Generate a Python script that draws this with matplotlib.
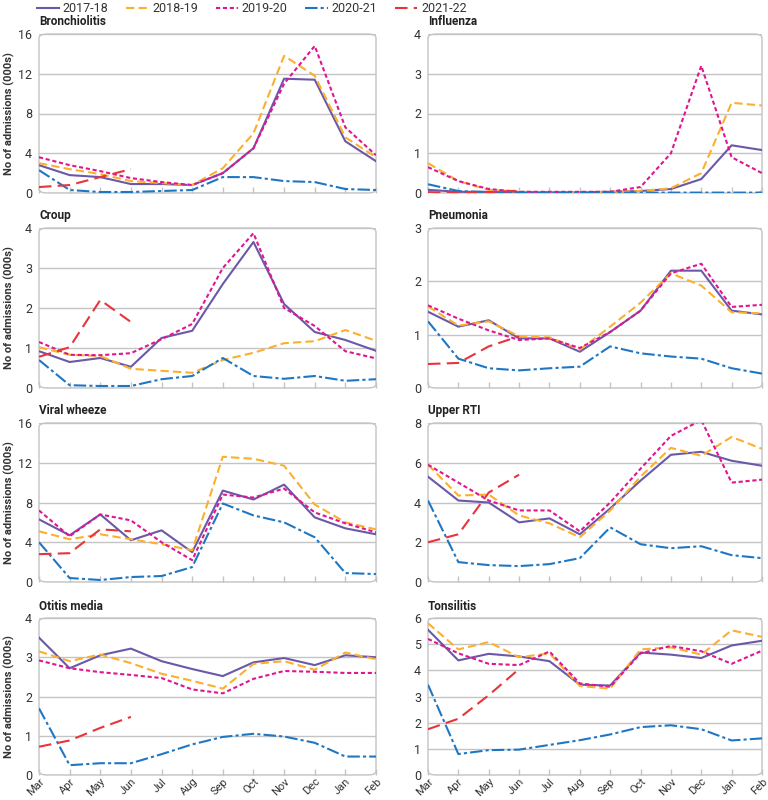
import matplotlib
matplotlib.use("Agg")
import matplotlib.pyplot as plt
from matplotlib.patches import FancyBboxPatch
from matplotlib.lines import Line2D

plt.rcParams["font.family"] = ["Roboto", "DejaVu Sans"]

months = ["Mar", "Apr", "May", "Jun", "Jul", "Aug", "Sep", "Oct", "Nov", "Dec", "Jan", "Feb"]
seasons = ["2017-18", "2018-19", "2019-20", "2020-21", "2021-22"]

# values in thousands, one list per season (2021-22 only to Jun)
bronchiolitis = [
    [2.8, 1.8, 1.6, 0.9, 0.9, 0.8, 2.0, 4.5, 11.5, 11.4, 5.2, 3.2],
    [3.0, 2.4, 1.9, 1.2, 1.0, 0.8, 2.5, 6.0, 13.8, 11.8, 5.6, 3.6],
    [3.6, 2.8, 2.2, 1.5, 1.1, 0.8, 2.0, 4.5, 11.0, 14.8, 6.6, 3.8],
    [2.3, 0.3, 0.1, 0.1, 0.2, 0.3, 1.6, 1.6, 1.2, 1.1, 0.4, 0.3],
    [0.6, 0.8, 1.6, 2.4],
]
influenza = [
    [0.08, 0.03, 0.03, 0.02, 0.02, 0.02, 0.03, 0.05, 0.1, 0.35, 1.2, 1.08],
    [0.75, 0.3, 0.08, 0.03, 0.02, 0.02, 0.03, 0.05, 0.12, 0.5, 2.27, 2.2],
    [0.65, 0.3, 0.1, 0.03, 0.03, 0.03, 0.03, 0.15, 1.0, 3.2, 0.9, 0.5],
    [0.22, 0.05, 0.02, 0.01, 0.01, 0.01, 0.01, 0.01, 0.01, 0.01, 0.01, 0.01],
    [0.02, 0.01, 0.02, 0.06],
]
croup = [
    [0.92, 0.65, 0.75, 0.53, 1.25, 1.43, 2.6, 3.65, 2.1, 1.4, 1.2, 0.93],
    [1.02, 0.83, 0.8, 0.48, 0.43, 0.38, 0.7, 0.88, 1.12, 1.17, 1.45, 1.18],
    [1.15, 0.83, 0.82, 0.87, 1.22, 1.6, 3.0, 3.87, 2.0, 1.55, 0.92, 0.74],
    [0.7, 0.07, 0.05, 0.05, 0.22, 0.3, 0.75, 0.3, 0.23, 0.3, 0.18, 0.22],
    [0.78, 1.02, 2.2, 1.65],
]
pneumonia = [
    [1.43, 1.15, 1.27, 0.93, 0.93, 0.68, 1.05, 1.45, 2.2, 2.2, 1.45, 1.38],
    [1.53, 1.17, 1.25, 0.97, 0.95, 0.72, 1.15, 1.6, 2.15, 1.92, 1.42, 1.4],
    [1.55, 1.3, 1.08, 0.9, 0.93, 0.75, 1.05, 1.45, 2.15, 2.33, 1.52, 1.56],
    [1.25, 0.55, 0.37, 0.33, 0.37, 0.4, 0.78, 0.65, 0.59, 0.55, 0.37, 0.27],
    [0.45, 0.47, 0.78, 0.97],
]
viral_wheeze = [
    [6.3, 4.7, 6.8, 4.2, 5.2, 3.0, 9.2, 8.3, 9.8, 6.5, 5.4, 4.8],
    [5.1, 4.3, 4.8, 4.3, 3.8, 3.2, 12.6, 12.4, 11.7, 7.8, 6.0, 5.3],
    [7.2, 4.6, 6.8, 6.2, 4.0, 2.2, 8.8, 8.5, 9.4, 7.0, 5.9, 5.0],
    [4.0, 0.4, 0.2, 0.5, 0.6, 1.5, 7.9, 6.7, 6.0, 4.5, 0.9, 0.8],
    [2.8, 2.9, 5.3, 5.1],
]
upper_rti = [
    [5.3, 4.1, 4.0, 3.0, 3.2, 2.4, 3.7, 5.1, 6.4, 6.55, 6.1, 5.85],
    [5.9, 4.35, 4.4, 3.35, 2.95, 2.25, 3.6, 5.3, 6.75, 6.35, 7.3, 6.7],
    [5.9, 5.0, 4.1, 3.6, 3.6, 2.55, 4.0, 5.7, 7.35, 8.15, 5.0, 5.15],
    [4.1, 1.0, 0.85, 0.8, 0.9, 1.2, 2.75, 1.9, 1.7, 1.8, 1.35, 1.2],
    [2.0, 2.4, 4.5, 5.4],
]
otitis_media = [
    [3.5, 2.72, 3.05, 3.22, 2.9, 2.7, 2.52, 2.87, 2.98, 2.8, 3.05, 3.0],
    [3.15, 2.9, 3.07, 2.85, 2.58, 2.4, 2.2, 2.83, 2.9, 2.68, 3.12, 2.95],
    [2.92, 2.72, 2.62, 2.55, 2.47, 2.18, 2.08, 2.45, 2.65, 2.63, 2.6, 2.6],
    [1.7, 0.25, 0.3, 0.3, 0.53, 0.78, 0.97, 1.05, 0.98, 0.82, 0.47, 0.47],
    [0.72, 0.88, 1.2, 1.48],
]
tonsilitis = [
    [5.55, 4.38, 4.63, 4.53, 4.35, 3.45, 3.42, 4.68, 4.6, 4.47, 4.95, 5.13],
    [5.8, 4.8, 5.08, 4.5, 4.65, 3.4, 3.3, 4.8, 4.88, 4.6, 5.53, 5.28],
    [5.2, 4.65, 4.25, 4.2, 4.72, 3.5, 3.37, 4.65, 4.93, 4.73, 4.25, 4.75],
    [3.45, 0.8, 0.95, 0.97, 1.15, 1.33, 1.55, 1.83, 1.9, 1.75, 1.32, 1.4],
    [1.75, 2.15, 3.05, 4.05],
]

panels = [
    ("Bronchiolitis", bronchiolitis, 16, [0, 4, 8, 12, 16]),
    ("Influenza", influenza, 4, [0, 1, 2, 3, 4]),
    ("Croup", croup, 4, [0, 1, 2, 3, 4]),
    ("Pneumonia", pneumonia, 3, [0, 1, 2, 3]),
    ("Viral wheeze", viral_wheeze, 16, [0, 4, 8, 12, 16]),
    ("Upper RTI", upper_rti, 8, [0, 2, 4, 6, 8]),
    ("Otitis media", otitis_media, 4, [0, 1, 2, 3, 4]),
    ("Tonsilitis", tonsilitis, 6, [0, 1, 2, 3, 4, 5, 6]),
]

colors = ["#6c58a8", "#fbb02d", "#e0168f", "#1f77c4", "#e8343b"]
styles = [
    dict(linestyle="-"),
    dict(dashes=(4, 2)),
    dict(dashes=(2, 1.3)),
    dict(dashes=(6, 1.5, 1.5, 1.5)),
    dict(dashes=(6, 3)),
]

fig = plt.figure(figsize=(7.68, 8), dpi=100)
W, H = 768, 800
col_x = [(39, 376), (428, 762)]
row_y = [(34, 193), (228, 388), (423, 582), (618, 775)]

x = list(range(len(months)))
for i, (name, data, ymax, yt) in enumerate(panels):
    r, c = divmod(i, 2)
    x0, x1 = col_x[c]
    y0, y1 = row_y[r]
    ax = fig.add_axes([x0 / W, 1 - y1 / H, (x1 - x0) / W, (y1 - y0) / H])
    for s in range(len(seasons)):
        vals = data[s]
        ax.plot(x[:len(vals)], vals, color=colors[s], lw=1.5, **styles[s])
    ax.set_xlim(0, 11)
    ax.set_ylim(0, ymax)
    ax.set_yticks(yt)
    ax.grid(axis="y", color="#c4c4c4", lw=1)
    ax.set_axisbelow(True)
    for sp in ax.spines.values():
        sp.set_visible(False)
    box = FancyBboxPatch((0, 0), 1, 1, boxstyle="round,pad=0,rounding_size=0.025",
                         transform=ax.transAxes, fill=False, ec="#c4c4c4", lw=1,
                         clip_on=False, zorder=0.5)
    ax.add_patch(box)
    ax.set_xticks(x)
    ax.tick_params(axis="x", direction="in", length=4, color="#c4c4c4", width=1, pad=1)
    ax.tick_params(axis="y", length=0, pad=5, labelsize=9, labelcolor="#333333")
    if r == 3:
        ax.set_xticklabels(months, rotation=45, ha="right", va="top",
                           rotation_mode="anchor", fontsize=8, color="#333333")
    else:
        ax.set_xticklabels([])
    ax.text(0.0, 1.035, name, transform=ax.transAxes, fontsize=8.5, fontweight="bold",
            color="#222222", ha="left", va="bottom")
    if c == 0:
        ax.set_ylabel("No of admissions (000s)", fontsize=8, fontweight="bold",
                      color="#333333")
        ax.yaxis.set_label_coords(-0.072, 0.5)

handles = [Line2D([], [], color=colors[s], lw=1.5, **styles[s]) for s in range(len(seasons))]
fig.legend(handles, seasons, loc="upper left", bbox_to_anchor=(34 / W, 1.0), ncol=5,
           frameon=False, fontsize=9, handlelength=1.8, handletextpad=0.3,
           columnspacing=1.4, borderaxespad=0.1, borderpad=0.1, labelcolor="#333333")

fig.savefig("out.png", dpi=100)
